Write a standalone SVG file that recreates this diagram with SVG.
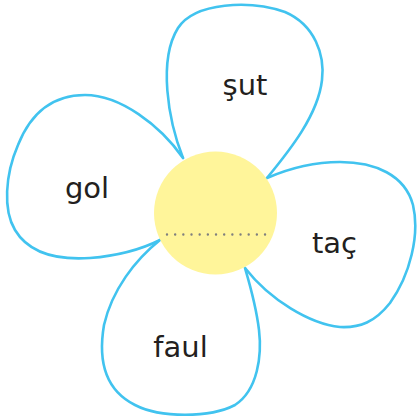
<svg xmlns="http://www.w3.org/2000/svg" width="418" height="420" viewBox="0 0 418 420">
<style>
.petal{fill:#ffffff;stroke:#41c3ef;stroke-width:2.6;stroke-linejoin:round;stroke-linecap:round}
.lbl{font-family:"DejaVu Sans",sans-serif;font-size:29px;fill:#231f20;text-anchor:middle}
.dots{stroke:#7f7f7f;stroke-width:2.4;stroke-linecap:round;stroke-dasharray:0 8.17}
</style>
<rect width="418" height="420" fill="#ffffff"/>
<g id="petal-sut">
<path class="petal" d="M183,158 C168,120 158,60 178,28 C195,2 250,0 285,12 C315,25 325,55 322,80 C318,115 290,150 267,178"/>
<text class="lbl" x="245" y="95">şut</text>
</g>
<g id="petal-gol">
<path class="petal" d="M183,158 C160,125 120,95 85,95 C50,95 30,115 18,145 C5,175 3,210 15,230 C30,255 60,260 90,258 C115,256 140,250 160,240"/>
<text class="lbl" x="87" y="198">gol</text>
</g>
<g id="petal-tac">
<path class="petal" d="M267,178 C290,168 315,162 340,162 C375,162 405,175 413,205 C420,235 410,275 390,303 C375,322 360,328 340,327 C310,324 270,300 245,268"/>
<text class="lbl" x="334.5" y="253">taç</text>
</g>
<g id="petal-faul">
<path class="petal" d="M160,240 C135,260 112,290 104,325 C98,360 105,390 135,405 C160,418 210,418 235,405 C258,390 262,355 259,330 C256,305 250,285 245,268"/>
<text class="lbl" x="180.5" y="357">faul</text>
</g>
<g id="center">
<circle cx="215.5" cy="213" r="61.5" fill="#fff59a"/>
<line class="dots" x1="167" y1="234.5" x2="265.2" y2="234.5"/>
</g>
</svg>
